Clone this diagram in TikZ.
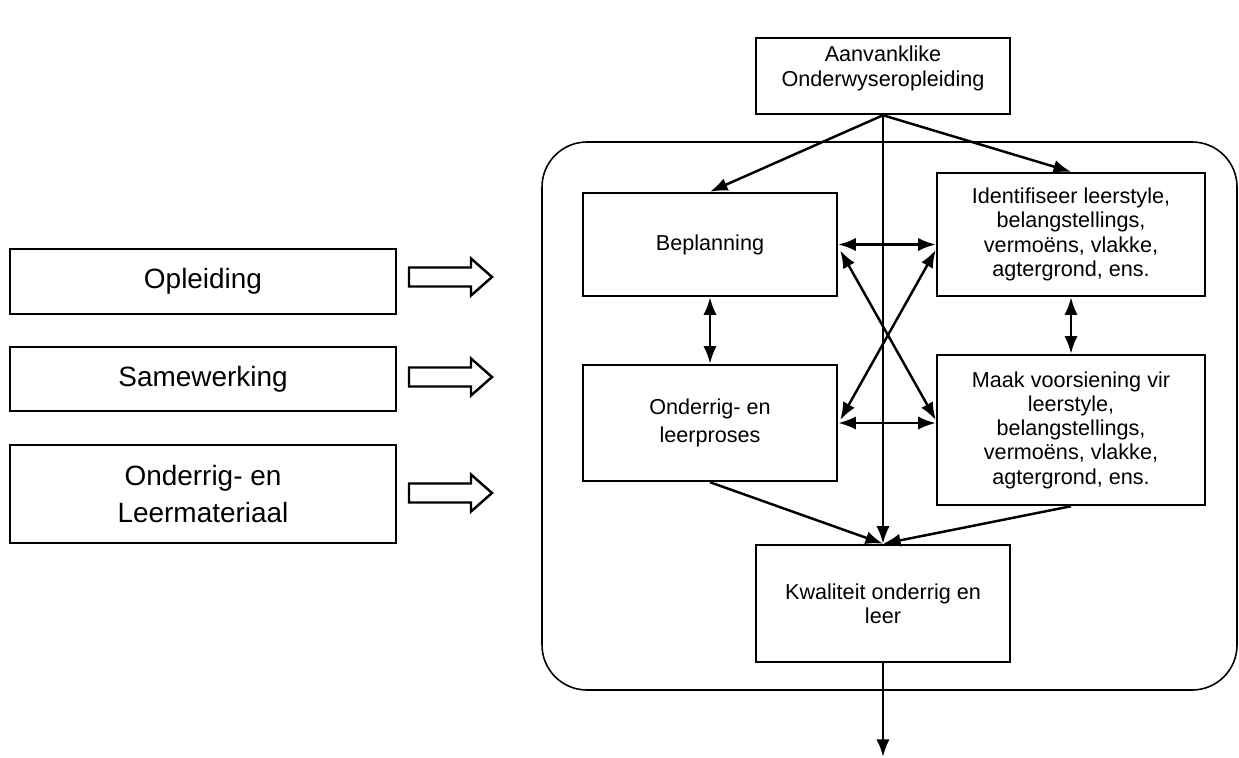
\documentclass[tikz,border=0pt]{standalone}
\usepackage{fontspec}
\setmainfont{Liberation Sans}
\usetikzlibrary{calc,arrows.meta}

\begin{document}
\begin{tikzpicture}[x=0.02cm, y=-0.02cm, >={Latex[length=10pt,width=7.5pt]},
  line width=1.4pt,
  box/.style={draw, rectangle, inner sep=2pt, align=center,
    font=\fontsize{12.3}{13.8}\selectfont},
  bigbox/.style={draw, rectangle, align=center, minimum width=386*\pxl,
    font=\fontsize{15.9}{21}\selectfont}]

\def \pxl {0.02cm} % one pixel of the original
\def \sh {9.5}     % half height of the shaft
\def \hh {18.5}    % half height of the head

\useasboundingbox (0,0) rectangle (1239,757);

% the frame round the inner part
\draw[line width=0.9pt, rounded corners=0.9cm] (542,142) rectangle (1237,690);

% input boxes on the left
\node[bigbox, minimum height=65*\pxl] (opl) at (203,281.5) {Opleiding};
\node[bigbox, minimum height=64*\pxl] (samew) at (203,379) {Samewerking};
\node[bigbox, minimum height=98*\pxl] (leerm) at (203,494) {Onderrig- en\\Leermateriaal};

\foreach \y in {277,377,493}
{
  \draw (409,\y-\sh) -- (471,\y-\sh) -- (471,\y-\hh) -- (492,\y)
    -- (471,\y+\hh) -- (471,\y+\sh) -- (409,\y+\sh) -- cycle;
}

% the model
\node[box, minimum width=254*\pxl, minimum height=76*\pxl,
  label={[align=center, font=\fontsize{12.3}{14}\selectfont, yshift=4.2pt]center:Aanvanklike\\Onderwyseropleiding}]
  (aanv) at (883,76) {};
\node[box, minimum width=254*\pxl, minimum height=103*\pxl] (beplan) at (710,244.5) {Beplanning};
\node[box, minimum width=268*\pxl, minimum height=123*\pxl] (ident) at (1071,234.5)
  {Identifiseer leerstyle,\\belangstellings,\\vermoëns, vlakke,\\agtergrond, ens.};
\node[box, minimum width=254*\pxl, minimum height=116*\pxl] (onderrig) at (710,423)
  {Onderrig- en\\[2pt]leerproses};
\node[box, minimum width=268*\pxl, minimum height=150*\pxl] (maak) at (1071,430)
  {Maak voorsiening vir\\leerstyle,\\belangstellings,\\vermoëns, vlakke,\\agtergrond, ens.};
\node[box, minimum width=254*\pxl, minimum height=117*\pxl] (kwal) at (883,603.5)
  {Kwaliteit onderrig en\\leer};
\coordinate (uit) at (883,757);

\draw[->] (aanv.south) -- (beplan.north);
\draw[->] (aanv.south) -- (ident.north);
\draw[->] (aanv.south) -- (kwal.north);
\draw[->] (kwal.south) -- (uit);

\draw[<->] (beplan.east) -- (ident.west |- beplan.east);
\draw[<->] (onderrig.east) -- (maak.west |- onderrig.east);
\draw[<->] (beplan.south) -- (onderrig.north);
\draw[<->] (ident.south) -- (maak.north);
\draw[<->] ($(beplan.east)+(2,6)$) -- ($(maak.west)+(0,-10)$);
\draw[<->] ($(ident.west)+(0,15.5)$) -- ($(onderrig.east)+(2,-3)$);

\draw[->] (onderrig.south) -- (kwal.north);
\draw[->] (maak.south) -- (kwal.north);
\end{tikzpicture}
\end{document}
